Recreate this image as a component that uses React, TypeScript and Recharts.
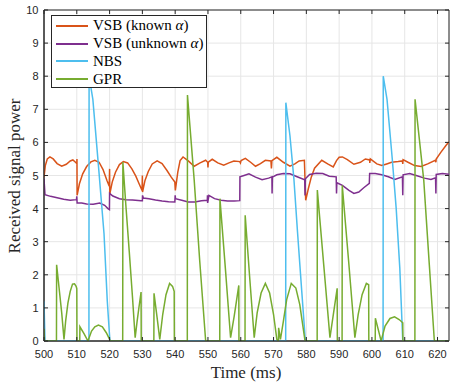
import React from 'react';
import { LineChart, Line, XAxis, YAxis, CartesianGrid, Legend, ReferenceArea } from 'recharts';

// time (ms), received power
const vsbKnown: [number, number][] = [
  [500, 4.95], [500.4, 5.3], [501, 5.5], [501.8, 5.56], [502.8, 5.5], [504, 5.36], [505.4, 5.28],
  [506.8, 5.34], [508, 5.44], [508.8, 5.47], [509.6, 5.4], [510, 5.36], [510.05, 5.5], [510.1, 4.4],
  [510.8, 4.75], [511.8, 5.05], [513, 5.27], [514.3, 5.41], [515.5, 5.46], [516.8, 5.4], [518, 5.18],
  [519.2, 4.85], [519.9, 4.68], [520, 5.2], [520.05, 4.43], [520.8, 4.8], [521.8, 5.1], [523, 5.33],
  [524.2, 5.42], [525.5, 5.38], [526.8, 5.2], [528, 4.98], [529, 4.75], [529.9, 4.55], [530, 5.0],
  [530.05, 4.5], [530.8, 4.85], [531.8, 5.12], [533, 5.35], [534.5, 5.44], [536, 5.36], [537.5, 5.15],
  [538.8, 4.95], [539.9, 4.8], [540.05, 4.55], [540.8, 5.1], [541.5, 5.45], [542.4, 5.56], [544, 5.44],
  [545.8, 5.28], [547.6, 5.38], [549.3, 5.46], [549.9, 5.4], [550, 5.24], [550.1, 5.4], [551.3, 5.49],
  [553, 5.38], [554.8, 5.31], [556.4, 5.38], [557.9, 5.44], [559.7, 5.42], [559.9, 5.38], [560.1, 5.45],
  [561.4, 5.52], [563, 5.4], [564.5, 5.28], [566, 5.36], [567.5, 5.46], [569.2, 5.44], [569.35, 5.21],
  [569.5, 5.45], [571, 5.55], [573, 5.4], [575, 5.28], [576.5, 5.35], [577.8, 5.44], [579.4, 5.46],
  [579.8, 4.25], [580.6, 4.6], [581.5, 4.95], [582.5, 5.22], [584.7, 5.46], [586.5, 5.35], [588.2, 5.26],
  [589.2, 5.45], [590, 5.55], [591, 5.56], [592.5, 5.48], [594.5, 5.34], [596.5, 5.4], [598, 5.5],
  [599.3, 5.47], [599.35, 5.38], [599.5, 5.5], [601.5, 5.35], [603, 5.3], [604.5, 5.35], [606, 5.4],
  [608, 5.42], [609.3, 5.44], [609.4, 5.35], [609.5, 5.48], [611, 5.4], [613, 5.3], [615, 5.27],
  [617, 5.35], [619.3, 5.46], [619.5, 5.4], [619.6, 5.5], [621, 5.7], [622.5, 5.9], [623.5, 6.02],
];

const vsbUnknown: [number, number][] = [
  [500, 4.9], [500.3, 4.42], [502, 4.37], [504, 4.33], [506, 4.28], [508, 4.25], [509.9, 4.27],
  [510, 4.37], [510.1, 4.17], [511.5, 4.17], [513, 4.14], [515, 4.13], [517, 4.17], [518.5, 4.1],
  [519.5, 4.0], [519.95, 3.97], [520, 4.46], [521, 4.38], [523, 4.3], [525, 4.27], [527, 4.26],
  [529.6, 4.24], [530, 4.24], [530.05, 4.4], [530.3, 4.32], [532, 4.3], [534, 4.26], [536, 4.23],
  [538, 4.21], [539.9, 4.2], [540, 4.4], [540.1, 4.3], [542, 4.25], [544, 4.2], [546, 4.2], [548, 4.24],
  [549.8, 4.25], [549.85, 4.4], [549.9, 4.17], [550.3, 4.4], [552, 4.3], [554, 4.25], [556, 4.23],
  [558, 4.23], [559.7, 4.24], [559.75, 4.96], [561, 5.0], [562.5, 5.05], [564.5, 4.95], [566.5, 4.87],
  [568.5, 4.92], [569.5, 4.96], [569.55, 4.46], [569.65, 4.95], [571, 5.02], [573, 5.06], [575, 5.05],
  [577, 4.97], [579.5, 4.87], [579.6, 4.4], [579.7, 4.9], [581, 5.03], [583, 5.07], [585, 5.06],
  [587, 4.98], [589.1, 4.96], [589.2, 4.46], [589.3, 4.78], [591, 4.7], [593, 4.55], [594.5, 4.46],
  [596, 4.5], [597.5, 4.63], [599.2, 4.76], [599.3, 5.06], [601, 5.06], [603, 5.02], [605, 4.96],
  [607, 4.88], [609.3, 4.96], [609.4, 4.4], [609.5, 5.02], [611.5, 5.06], [613.5, 5.0], [616, 4.92],
  [618, 4.88], [619.4, 4.93], [619.5, 4.46], [619.6, 5.03], [621.5, 5.06], [623.5, 5.04],
];

const nbs: [number, number][] = [
  [500, 1.2], [500.3, 0], [513.7, 0], [513.75, 8.0], [514.9, 7.3], [516.6, 5.3], [518.3, 3.25],
  [519.3, 1.2], [520.1, 0], [573.7, 0], [573.75, 7.2], [575, 6.2], [576.2, 4.9], [577.3, 3.3],
  [578.6, 1.5], [579.7, 0], [603.4, 0], [603.45, 8.0], [604.6, 7.3], [606.2, 5.5], [607.4, 4.0],
  [608.5, 2.2], [609.4, 0], [623.5, 0],
];

const gpr: [number, number][] = [
  [500, 0.37], [500.15, 0], [503.8, 0], [503.85, 2.3], [504.6, 1.6], [505.4, 0.85], [506.1, 0.05],
  [506.6, 0.6], [507.3, 1.15], [508, 1.5], [508.7, 1.72], [509.3, 1.73], [509.8, 1.65], [510, 1.58],
  [510.05, 0], [510.9, 0], [510.95, 0.43], [512.2, 0.22], [513.4, 0], [514.5, 0.3], [515.5, 0.43],
  [516.6, 0.48], [517.8, 0.43], [519, 0.25], [520, 0.05], [520.1, 0], [524, 0], [524.05, 5.41],
  [525, 4.05], [526, 2.7], [527, 1.3], [527.8, 0.1], [528.4, 0.6], [529, 1.05], [529.6, 1.48],
  [529.65, 0], [533.5, 0], [533.55, 1.44], [534.5, 0.7], [535.3, 0.05], [536.2, 0.8], [537.2, 1.4],
  [538.3, 1.74], [539.2, 1.65], [539.7, 1.5], [539.75, 0], [543.7, 0], [543.75, 7.43], [545.8, 4.86],
  [547.5, 2.4], [549.3, 0], [553.6, 0], [553.65, 4.3], [555.3, 2.2], [556.9, 0.1], [558, 0.75],
  [559.4, 1.68], [559.45, 0], [561.3, 0], [561.35, 3.8], [562.7, 1.95], [564.1, 0.1], [565, 0.85],
  [566.2, 1.45], [567.5, 1.74], [568.8, 1.45], [570, 0.8], [571, 0.05], [571.5, 0], [571.55, 0.4],
  [572.1, 0.05], [573, 0.6], [574, 1.25], [575.4, 1.74], [576.8, 1.6], [578, 1.1], [579.6, 0],
  [583.3, 0], [583.35, 4.56], [585.3, 2.3], [587.2, 0.1], [588.3, 0.85], [589.4, 1.59], [589.45, 0],
  [590.9, 0], [590.95, 4.7], [592.9, 2.4], [594.8, 0.1], [595.8, 0.8], [597, 1.4], [598.3, 1.74],
  [599, 1.7], [599.05, 0], [601, 0], [601.05, 0.69], [602.8, 0], [604, 0.45], [605.5, 0.68],
  [606.9, 0.73], [608.3, 0.65], [609.4, 0.55], [609.45, 0], [613.1, 0], [613.15, 7.3], [615.8, 4.86],
  [617.5, 2.3], [619, 0.05], [619.1, 0], [623.5, 0],
];

const xTicks = [500, 510, 520, 530, 540, 550, 560, 570, 580, 590, 600, 610, 620];
const yTicks = [0, 1, 2, 3, 4, 5, 6, 7, 8, 9, 10];

const series = [
  { name: 'VSB (known', data: vsbKnown, color: '#D95319', alpha: true },
  { name: 'VSB (unknown', data: vsbUnknown, color: '#7E2F8E', alpha: true },
  { name: 'NBS', data: nbs, color: '#4DBEEE', alpha: false },
  { name: 'GPR', data: gpr, color: '#77AC30', alpha: false },
];

const SANS = '"Liberation Sans", Arial, Helvetica, sans-serif';
const SERIF = '"Liberation Serif", "Times New Roman", serif';
const AXIS = '#262626';
const LEFT = 44;
const RIGHT = 449;
const TOP = 10;
const BOTTOM = 341;

const toPts = (arr: [number, number][]) => arr.map(([t, v]) => ({ t, v }));

const XTick = ({ x, payload }: any) => (
  <g>
    <line x1={x} x2={x} y1={BOTTOM} y2={BOTTOM - 4} stroke={AXIS} />
    <line x1={x} x2={x} y1={TOP} y2={TOP + 4} stroke={AXIS} />
    <text x={x} y={358} textAnchor="middle" fontFamily={SANS} fontSize={11} fill={AXIS}>
      {payload.value}
    </text>
  </g>
);

const YTick = ({ y, payload }: any) => (
  <g>
    <line x1={LEFT} x2={LEFT + 4} y1={y} y2={y} stroke={AXIS} />
    <line x1={RIGHT} x2={RIGHT - 4} y1={y} y2={y} stroke={AXIS} />
    <text x={38.5} y={y + 4} textAnchor="end" fontFamily={SANS} fontSize={11} fill={AXIS}>
      {payload.value}
    </text>
  </g>
);

const YLabel = () => (
  <text x={20} y={176} transform="rotate(-90 20 176)" textAnchor="middle" fontFamily={SERIF} fontSize={17} fill={AXIS}>
    Received signal power
  </text>
);

const XLabel = () => (
  <text x={246} y={378} textAnchor="middle" fontFamily={SERIF} fontSize={17} fill={AXIS}>
    Time (ms)
  </text>
);

const LegendBox = () => (
  <div
    style={{
      boxSizing: 'border-box',
      width: 156,
      height: 73,
      border: `1px solid ${AXIS}`,
      background: '#fff',
      paddingTop: 1,
      fontFamily: SERIF,
      fontSize: 15,
      color: '#000',
    }}
  >
    {series.map((s) => (
      <div key={s.name} style={{ height: 17.8, display: 'flex', alignItems: 'center' }}>
        <div style={{ width: 32, height: 2, background: s.color, marginLeft: 4, marginRight: 5 }} />
        <span style={{ whiteSpace: 'nowrap', lineHeight: '17px' }}>
          {s.name}
          {s.alpha ? (
            <>
              {' '}
              <i>α</i>)
            </>
          ) : null}
        </span>
      </div>
    ))}
  </div>
);

export default function App() {
  return (
    <div style={{ position: 'absolute', left: 0, top: 0, width: 450, height: 385, background: '#fff' }}>
      <LineChart width={450} height={385} margin={{ top: TOP, right: 450 - RIGHT, bottom: 0, left: 0 }}>
        <CartesianGrid stroke="#e6e6e6" strokeWidth={1} />
        <XAxis
          type="number"
          dataKey="t"
          domain={[500, 623.5]}
          ticks={xTicks}
          allowDataOverflow
          height={385 - BOTTOM}
          tickLine={false}
          axisLine={{ stroke: AXIS }}
          tick={<XTick />}
          label={<XLabel />}
        />
        <YAxis
          type="number"
          domain={[0, 10]}
          ticks={yTicks}
          allowDataOverflow
          width={LEFT}
          tickLine={false}
          axisLine={{ stroke: AXIS }}
          tick={<YTick />}
          label={<YLabel />}
        />
        <ReferenceArea x1={500} x2={623.5} y1={0} y2={10} fill="none" stroke={AXIS} strokeWidth={1} />
        {series.map((s) => (
          <Line
            key={s.name}
            data={toPts(s.data)}
            dataKey="v"
            type="linear"
            stroke={s.color}
            strokeWidth={1.5}
            dot={false}
            activeDot={false}
            isAnimationActive={false}
          />
        ))}
        <Legend
          layout="vertical"
          align="center"
          verticalAlign="middle"
          content={<LegendBox />}
          wrapperStyle={{ left: 51, top: 15, width: 156, height: 73 }}
        />
      </LineChart>
    </div>
  );
}
